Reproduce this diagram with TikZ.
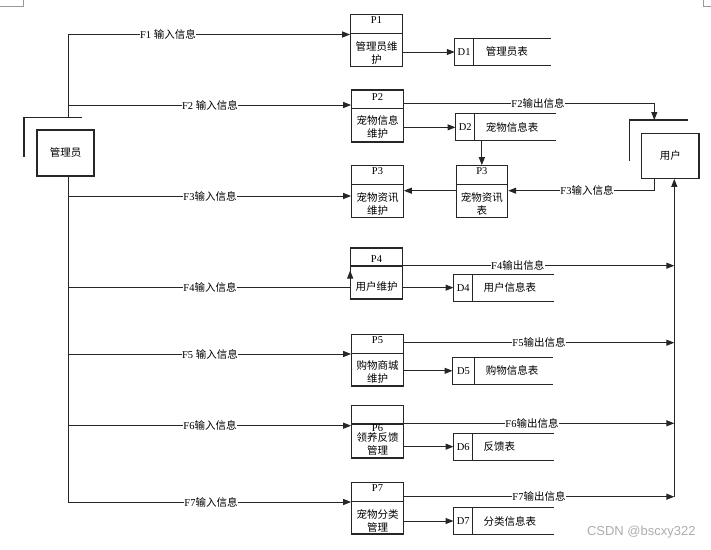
\documentclass[tikz,border=0pt]{standalone}
\usepackage{fontspec}
\setmainfont{Liberation Serif}
\newfontfamily\cjk{Noto Sans CJK SC}
\newfontfamily\wmfont{Liberation Sans}
\usetikzlibrary{arrows.meta,calc}
\newcommand\zh[1]{{\cjk #1}}
\newcommand\pboxdraw[8]{%
  % name, cx, cy, h, div, titley, title, bodyy
  \node[pbox, minimum height=#4pt] (#1) at (#2,#3) {};
  \draw[ln] (#1.west |- 0,#5) -- (#1.east |- 0,#5);
  \node[txt] (#1t) at (#2,#6) {#7};
}
\newcommand\dstoredraw[9]{%
  % name, cx, cy, w, h, div, id, textx, text
  \node[dslot, minimum width=#4pt, minimum height=#5pt] (#1) at (#2,#3) {};
  \draw[ln] (#1.north east) -- (#1.north west) -- (#1.south west) -- (#1.south east);
  \draw[ln] ({#6},{#3-#5/2}) -- ({#6},{#3+#5/2});
  \node[txt] (#1id) at ({(#6+#2-#4/2)/2},#3) {#7};
  \node[zhtxt, anchor=west] (#1tx) at (#8,#3) {#9};
}
\begin{document}
\begin{tikzpicture}[x=1pt,y=-1pt,
  font=\fontsize{10.5}{13}\selectfont,
  ln/.style={draw=black!85, line width=1pt},
  pbox/.style={draw=black!85, line width=1.1pt, minimum width=51.6pt, inner sep=0pt},
  ebox/.style={draw=black!85, line width=1.1pt, inner sep=0pt, font=\cjk\fontsize{10.5}{13}\selectfont},
  dslot/.style={inner sep=0pt},
  arr/.style={ln, -{Triangle[length=8pt,width=6pt]}},
  lab/.style={fill=white, inner sep=0.6pt},
  txt/.style={inner sep=0pt, align=center},
  zhtxt/.style={inner sep=0pt, align=center, font=\cjk\fontsize{10.5}{13}\selectfont}]
\useasboundingbox (0,0) rectangle (711,549);

% corner marks
\draw[black!40, line width=0.6pt] (0,6.5) -- (23.3,6.5) -- (23.3,0);
\draw[black!40, line width=0.6pt] (711,6.5) -- (703.3,6.5) -- (703.3,0);

% external entities
\node[ebox, minimum width=57pt, minimum height=46pt] (adm) at (65.5,153) {管理员};
\draw[ln, line width=1.1pt] (82,117.5) -- (24,117.5) -- (24,157);
\node[ebox, minimum width=57.3pt, minimum height=45pt] (usr) at (670.35,155.8) {用户};
\draw[ln, line width=1.1pt] (687.7,120) -- (629.3,120) -- (629.3,160.7);

% process boxes
\pboxdraw{P1}{376.5}{40.5}{51.6}{33.3}{20}{P1}{52.8}
\node[zhtxt] (P1b) at (376.5,52.8) {管理员维\\护};
\pboxdraw{P2}{377.5}{116}{52}{108.7}{96.7}{P2}{127.3}
\node[zhtxt] (P2b) at (377.5,127.3) {宠物信息\\维护};
\pboxdraw{P3L}{377.5}{191.7}{52}{184.3}{171}{P3}{203.9}
\node[zhtxt] (P3Lb) at (377.5,203.9) {宠物资讯\\维护};
\pboxdraw{P3R}{481.85}{191.7}{52}{184.3}{171}{P3}{203.9}
\node[zhtxt] (P3Rb) at (481.85,203.9) {宠物资讯\\表};
\pboxdraw{P4}{376.5}{273.5}{51}{266}{259}{P4}{286.7}
\node[zhtxt] (P4b) at (376.5,286.7) {用户维护};
\pboxdraw{P5}{377.5}{360.15}{51.7}{353}{340}{P5}{372}
\node[zhtxt] (P5b) at (377.5,372) {购物商城\\维护};
\pboxdraw{P6}{377.5}{431.85}{52.3}{424.3}{428.5}{P6}{443.8}
\node[zhtxt] (P6b) at (377.5,444.3) {领养反馈\\管理};
\pboxdraw{P7}{377.5}{508.35}{51.3}{501.3}{488}{P7}{520.8}
\node[zhtxt] (P7b) at (377.5,520.8) {宠物分类\\管理};

% data stores
\dstoredraw{D1}{503}{52}{96}{26.6}{473.3}{D1}{485.7}{管理员表}
\dstoredraw{D2}{505.85}{127.35}{100.3}{26.7}{474.7}{D2}{485.7}{宠物信息表}
\dstoredraw{D4}{503.5}{287.65}{99.6}{26.7}{472.7}{D4}{483.3}{用户信息表}
\dstoredraw{D5}{502.5}{370.8}{99.6}{27}{474.3}{D5}{485.7}{购物信息表}
\dstoredraw{D6}{503.5}{446.65}{99.6}{26.7}{472.7}{D6}{483.3}{反馈表}
\dstoredraw{D7}{503.5}{521}{99.6}{26.6}{472.7}{D7}{483.3}{分类信息表}

% left bus coordinates
\coordinate (aT) at (68,117.5);
\coordinate (l1) at (68,34.5);
\coordinate (l2) at (68,105);
\coordinate (l3) at (68,196);
\coordinate (l4) at (68,287);
\coordinate (l5) at (68,354);
\coordinate (l6) at (68,425.7);
\coordinate (l7) at (68,502);

\draw[arr] (aT) -- (l1) -- (P1.west |- l1);
\draw[arr] (l2) -- (P2.west |- l2);
\draw[ln] (adm.south -| l7) -- (l7);
\draw[arr] (l3) -- (P3L.west |- l3);
\draw[arr] (l4) -- (P4.west |- l4) -- ($(P4.west |- l4)+(0,-16.5)$);
\draw[arr] (l5) -- (P5.west |- l5);
\draw[arr] (l6) -- (P6.west |- l6);
\draw[arr] (l7) -- (P7.west |- l7);

\node[lab] (f1i) at (168,34.5) {F1 \zh{输入信息}};
\node[lab] (f2i) at (210,105) {F2 \zh{输入信息}};
\node[lab] (f3i) at (210,196) {F3\zh{输入信息}};
\node[lab] (f4i) at (210,287) {F4\zh{输入信息}};
\node[lab] (f5i) at (210,354) {F5 \zh{输入信息}};
\node[lab] (f6i) at (210,425.7) {F6\zh{输入信息}};
\node[lab] (f7i) at (211,502) {F7\zh{输入信息}};

% process to store
\draw[arr] (P1.east |- D1.west) -- (D1.west);
\draw[arr] (P2.east |- D2.west) -- (D2.west);
\draw[arr] (P4.east |- D4.west) -- (D4.west);
\draw[arr] (P5.east |- D5.west) -- (D5.west);
\draw[arr] (P6.east |- D6.west) -- (D6.west);
\draw[arr] (P7.east |- D7.west) -- (D7.west);
\draw[arr] (P3R.north |- D2.south) -- (P3R.north);

% F2 output and F3 input with user
\coordinate (c2) at (654.3,103);
\coordinate (uL) at (654.3,120);
\draw[arr] (P2.east |- c2) -- (c2) -- (uL);
\node[lab] (f2o) at (538,103) {F2\zh{输出信息}};
\coordinate (c3) at (654.3,190.7);
\draw[arr] (usr.south -| c3) -- (c3) -- (P3R.east |- c3);
\node[lab] (f3u) at (587,190.7) {F3\zh{输入信息}};
\draw[arr] (P3R.west |- c3) -- (P3L.east |- c3);

% right bus
\coordinate (r4) at (674.3,265.7);
\coordinate (r5) at (674.3,342.7);
\coordinate (r6) at (674.3,423.3);
\coordinate (r7) at (674.3,496.7);
\draw[arr] (r7) -- (usr.south -| r7);
\draw[arr] (P4.west |- r4) -- (r4);
\draw[arr] (P5.east |- r5) -- (r5);
\draw[arr] (P6.west |- r6) -- (r6);
\draw[arr] (P7.east |- r7) -- (r7);
\node[lab] (f4o) at (517.7,265.7) {F4\zh{输出信息}};
\node[lab] (f5o) at (539,342.7) {F5\zh{输出信息}};
\node[lab] (f6o) at (532,423.3) {F6\zh{输出信息}};
\node[lab] (f7o) at (539,496.7) {F7\zh{输出信息}};

% watermark
\node[inner sep=0pt, text=black!32, font=\wmfont\fontsize{13}{15}\selectfont] (wm) at (641.3,532) {CSDN @bscxy322};
\end{tikzpicture}
\end{document}
